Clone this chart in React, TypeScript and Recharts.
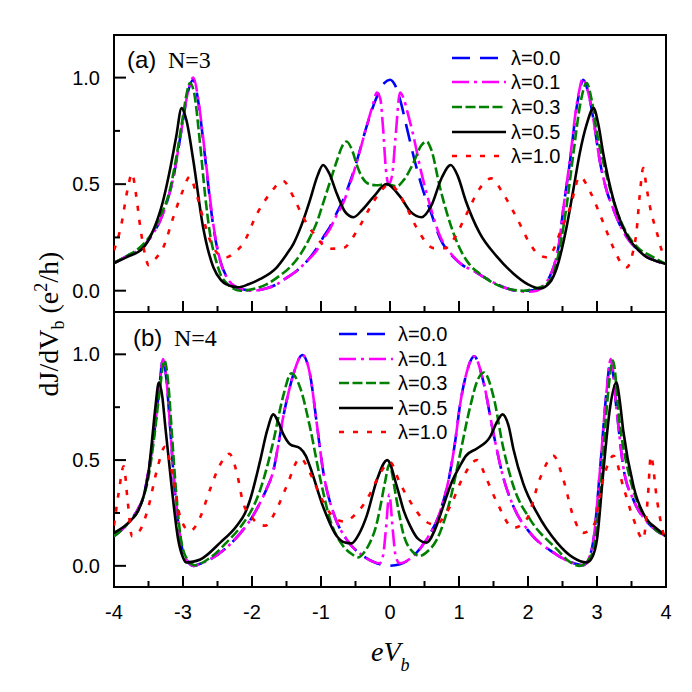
import React from 'react';
import { LineChart, Line, XAxis, YAxis, ReferenceArea, Legend } from 'recharts';

type Pt = [number, number];

const X_TICKS = [-4, -3.5, -3, -2.5, -2, -1.5, -1, -0.5, 0, 0.5, 1, 1.5, 2, 2.5, 3, 3.5, 4];
const Y_TICKS = [0, 0.25, 0.5, 0.75, 1];
const LAMBDAS = ['λ=0.0', 'λ=0.1', 'λ=0.3', 'λ=0.5', 'λ=1.0'];

// (a) N=3
const A_00: Pt[] = [[-4.0,0.13],[-3.8,0.165],[-3.6,0.2],[-3.45,0.26],[-3.33,0.33],[-3.22,0.43],[-3.14,0.53],[-3.06,0.68],[-3.0,0.8],[-2.93,0.93],[-2.85,0.99],[-2.78,0.89],[-2.72,0.74],[-2.66,0.57],[-2.56,0.3],[-2.46,0.14],[-2.36,0.06],[-2.25,0.02],[-2.1,0.004],[-2.0,0.0],[-1.8,0.01],[-1.64,0.03],[-1.5,0.06],[-1.35,0.094],[-1.2,0.14],[-1.06,0.2],[-0.95,0.26],[-0.87,0.3],[-0.78,0.36],[-0.68,0.425],[-0.58,0.51],[-0.48,0.61],[-0.34,0.77],[-0.19,0.91],[-0.08,0.975],[0.0,0.99],[0.08,0.96],[0.16,0.88],[0.24,0.77],[0.39,0.57],[0.5,0.45],[0.58,0.38],[0.72,0.25],[0.92,0.157],[1.05,0.12],[1.21,0.094],[1.38,0.06],[1.55,0.03],[1.7,0.01],[1.84,0.0],[2.0,0.0],[2.13,0.005],[2.24,0.03],[2.32,0.07],[2.37,0.11],[2.45,0.22],[2.51,0.38],[2.61,0.61],[2.7,0.85],[2.75,0.94],[2.8,0.99],[2.88,0.92],[2.95,0.8],[3.04,0.61],[3.14,0.47],[3.24,0.38],[3.36,0.29],[3.48,0.23],[3.6,0.19],[3.72,0.16],[3.85,0.14],[4.0,0.125]];
const A_01: Pt[] = [[-4.0,0.13],[-3.8,0.165],[-3.6,0.2],[-3.45,0.26],[-3.33,0.33],[-3.22,0.43],[-3.14,0.53],[-3.06,0.68],[-3.0,0.8],[-2.93,0.93],[-2.85,1.0],[-2.78,0.9],[-2.72,0.75],[-2.66,0.58],[-2.56,0.31],[-2.46,0.14],[-2.36,0.06],[-2.25,0.02],[-2.1,0.004],[-2.0,0.0],[-1.8,0.01],[-1.64,0.03],[-1.5,0.06],[-1.35,0.094],[-1.2,0.14],[-1.06,0.19],[-0.95,0.25],[-0.87,0.29],[-0.78,0.35],[-0.68,0.41],[-0.55,0.53],[-0.45,0.64],[-0.34,0.77],[-0.25,0.87],[-0.19,0.93],[-0.14,0.9],[-0.1,0.76],[-0.06,0.57],[-0.02,0.5],[0.03,0.54],[0.08,0.72],[0.145,0.93],[0.2,0.9],[0.26,0.83],[0.33,0.74],[0.45,0.56],[0.58,0.4],[0.72,0.26],[0.92,0.16],[1.05,0.12],[1.21,0.094],[1.38,0.06],[1.55,0.03],[1.7,0.01],[1.84,0.0],[2.0,-0.005],[2.13,0.0],[2.24,0.03],[2.32,0.07],[2.37,0.11],[2.45,0.22],[2.51,0.38],[2.61,0.62],[2.7,0.86],[2.75,0.95],[2.79,0.995],[2.88,0.92],[2.95,0.8],[3.04,0.61],[3.14,0.47],[3.24,0.38],[3.36,0.29],[3.48,0.23],[3.6,0.19],[3.72,0.16],[3.85,0.14],[4.0,0.125]];
const A_03: Pt[] = [[-4.0,0.13],[-3.8,0.165],[-3.6,0.21],[-3.45,0.27],[-3.33,0.35],[-3.2,0.46],[-3.1,0.62],[-3.0,0.82],[-2.95,0.92],[-2.9,0.975],[-2.84,0.93],[-2.75,0.68],[-2.68,0.45],[-2.61,0.27],[-2.52,0.14],[-2.46,0.08],[-2.35,0.03],[-2.17,0.0],[-1.95,0.01],[-1.79,0.03],[-1.6,0.07],[-1.45,0.11],[-1.3,0.17],[-1.16,0.25],[-1.05,0.33],[-0.97,0.41],[-0.87,0.51],[-0.77,0.61],[-0.69,0.68],[-0.63,0.7],[-0.55,0.66],[-0.47,0.58],[-0.4,0.53],[-0.3,0.5],[-0.2,0.495],[-0.05,0.5],[0.1,0.49],[0.2,0.52],[0.34,0.6],[0.45,0.68],[0.53,0.7],[0.6,0.66],[0.72,0.49],[0.82,0.37],[0.92,0.27],[1.04,0.18],[1.16,0.12],[1.3,0.08],[1.45,0.045],[1.65,0.015],[1.93,0.0],[2.1,0.01],[2.27,0.03],[2.38,0.09],[2.46,0.2],[2.56,0.4],[2.66,0.65],[2.76,0.88],[2.85,0.975],[2.92,0.9],[3.0,0.74],[3.14,0.54],[3.28,0.38],[3.43,0.27],[3.6,0.2],[3.8,0.16],[4.0,0.125]];
const A_05: Pt[] = [[-4.0,0.13],[-3.8,0.16],[-3.58,0.2],[-3.45,0.27],[-3.29,0.42],[-3.2,0.55],[-3.1,0.72],[-3.02,0.857],[-2.95,0.8],[-2.85,0.61],[-2.71,0.3],[-2.62,0.17],[-2.56,0.11],[-2.45,0.05],[-2.37,0.03],[-2.2,0.016],[-2.05,0.03],[-1.88,0.055],[-1.64,0.11],[-1.5,0.17],[-1.4,0.22],[-1.28,0.31],[-1.16,0.425],[-1.05,0.54],[-0.97,0.59],[-0.88,0.55],[-0.77,0.455],[-0.65,0.37],[-0.53,0.345],[-0.4,0.38],[-0.24,0.44],[-0.05,0.5],[0.15,0.44],[0.3,0.37],[0.46,0.345],[0.6,0.4],[0.75,0.53],[0.88,0.59],[0.98,0.54],[1.1,0.42],[1.3,0.27],[1.55,0.16],[1.79,0.08],[2.0,0.03],[2.17,0.01],[2.32,0.04],[2.42,0.11],[2.56,0.3],[2.66,0.48],[2.75,0.645],[2.85,0.78],[2.95,0.857],[3.02,0.78],[3.09,0.645],[3.24,0.425],[3.36,0.31],[3.48,0.236],[3.6,0.19],[3.72,0.157],[3.85,0.14],[4.0,0.125]];
const A_10: Pt[] = [[-4.0,0.19],[-3.9,0.3],[-3.8,0.48],[-3.74,0.55],[-3.68,0.45],[-3.62,0.3],[-3.55,0.17],[-3.5,0.12],[-3.4,0.15],[-3.29,0.2],[-3.14,0.345],[-3.02,0.455],[-2.9,0.535],[-2.82,0.47],[-2.7,0.33],[-2.6,0.23],[-2.48,0.17],[-2.37,0.157],[-2.25,0.18],[-2.13,0.22],[-1.93,0.36],[-1.74,0.455],[-1.55,0.515],[-1.4,0.44],[-1.26,0.345],[-1.11,0.27],[-0.87,0.197],[-0.68,0.2],[-0.48,0.28],[-0.29,0.39],[-0.1,0.48],[0.0,0.5],[0.1,0.47],[0.24,0.39],[0.43,0.27],[0.63,0.2],[0.8,0.2],[0.92,0.24],[1.11,0.36],[1.3,0.48],[1.47,0.527],[1.64,0.455],[1.84,0.34],[2.03,0.22],[2.15,0.17],[2.27,0.157],[2.38,0.2],[2.46,0.27],[2.61,0.39],[2.75,0.535],[2.9,0.465],[3.04,0.36],[3.24,0.2],[3.35,0.13],[3.43,0.11],[3.52,0.18],[3.57,0.27],[3.62,0.45],[3.67,0.575],[3.72,0.48],[3.77,0.39],[3.87,0.27],[3.96,0.17],[4.0,0.15]];

// (b) N=4
const B_00: Pt[] = [[-4.0,0.14],[-3.8,0.2],[-3.65,0.27],[-3.57,0.33],[-3.5,0.45],[-3.42,0.62],[-3.35,0.82],[-3.29,0.977],[-3.24,0.88],[-3.19,0.67],[-3.12,0.36],[-3.06,0.18],[-3.02,0.094],[-2.95,0.03],[-2.85,0.0],[-2.75,0.01],[-2.61,0.03],[-2.37,0.086],[-2.13,0.17],[-1.98,0.24],[-1.88,0.3],[-1.78,0.37],[-1.69,0.45],[-1.62,0.57],[-1.55,0.7],[-1.47,0.82],[-1.4,0.906],[-1.27,0.997],[-1.16,0.906],[-1.06,0.67],[-0.97,0.45],[-0.82,0.25],[-0.63,0.125],[-0.39,0.047],[-0.19,0.012],[-0.05,0.0],[0.145,0.008],[0.34,0.047],[0.53,0.125],[0.72,0.25],[0.87,0.44],[0.95,0.6],[1.01,0.75],[1.1,0.9],[1.22,0.99],[1.35,0.875],[1.5,0.625],[1.64,0.42],[1.79,0.28],[2.03,0.156],[2.37,0.0625],[2.6,0.02],[2.8,0.003],[2.9,0.05],[2.95,0.125],[3.04,0.44],[3.14,0.83],[3.2,0.977],[3.28,0.75],[3.38,0.47],[3.53,0.31],[3.72,0.21],[3.85,0.17],[4.0,0.14]];
const B_01: Pt[] = [[-4.0,0.14],[-3.8,0.2],[-3.65,0.27],[-3.57,0.33],[-3.5,0.45],[-3.42,0.62],[-3.35,0.82],[-3.29,0.977],[-3.24,0.88],[-3.19,0.67],[-3.12,0.36],[-3.06,0.18],[-3.02,0.094],[-2.95,0.03],[-2.85,0.0],[-2.75,0.01],[-2.61,0.03],[-2.37,0.086],[-2.13,0.17],[-1.98,0.24],[-1.88,0.3],[-1.78,0.37],[-1.69,0.45],[-1.62,0.57],[-1.55,0.7],[-1.47,0.82],[-1.4,0.906],[-1.27,0.997],[-1.16,0.906],[-1.06,0.67],[-0.97,0.45],[-0.82,0.25],[-0.63,0.125],[-0.39,0.047],[-0.25,0.02],[-0.15,0.012],[-0.1,0.05],[-0.06,0.17],[-0.01,0.337],[0.04,0.17],[0.08,0.05],[0.14,0.012],[0.34,0.047],[0.53,0.125],[0.72,0.25],[0.87,0.44],[0.95,0.6],[1.01,0.75],[1.1,0.9],[1.22,0.99],[1.35,0.875],[1.5,0.625],[1.64,0.42],[1.79,0.28],[2.03,0.156],[2.37,0.0625],[2.6,0.02],[2.8,0.003],[2.9,0.05],[2.95,0.125],[3.04,0.44],[3.14,0.83],[3.2,0.977],[3.28,0.75],[3.38,0.47],[3.53,0.31],[3.72,0.21],[3.85,0.17],[4.0,0.14]];
const B_03: Pt[] = [[-4.0,0.14],[-3.8,0.2],[-3.6,0.3],[-3.5,0.42],[-3.42,0.6],[-3.34,0.82],[-3.27,0.97],[-3.21,0.85],[-3.16,0.62],[-3.1,0.35],[-3.04,0.15],[-2.97,0.05],[-2.83,0.003],[-2.6,0.04],[-2.37,0.11],[-2.13,0.2],[-1.98,0.28],[-1.88,0.36],[-1.78,0.47],[-1.69,0.59],[-1.55,0.8],[-1.43,0.91],[-1.3,0.84],[-1.16,0.656],[-1.01,0.41],[-0.87,0.22],[-0.68,0.094],[-0.55,0.055],[-0.46,0.04],[-0.36,0.07],[-0.29,0.11],[-0.2,0.19],[-0.14,0.28],[-0.07,0.4],[-0.01,0.48],[0.04,0.42],[0.07,0.36],[0.13,0.25],[0.19,0.156],[0.34,0.0625],[0.43,0.047],[0.55,0.07],[0.68,0.125],[0.87,0.31],[1.01,0.52],[1.16,0.75],[1.26,0.87],[1.36,0.914],[1.5,0.8],[1.64,0.56],[1.79,0.375],[2.03,0.22],[2.42,0.078],[2.6,0.02],[2.75,0.0],[2.88,0.03],[2.95,0.08],[3.07,0.44],[3.15,0.78],[3.23,0.97],[3.33,0.67],[3.48,0.41],[3.6,0.29],[3.72,0.22],[3.85,0.17],[4.0,0.14]];
const B_05: Pt[] = [[-4.0,0.156],[-3.77,0.21],[-3.65,0.26],[-3.57,0.33],[-3.5,0.44],[-3.45,0.59],[-3.4,0.75],[-3.35,0.867],[-3.3,0.8],[-3.26,0.67],[-3.16,0.36],[-3.07,0.125],[-3.0,0.04],[-2.95,0.016],[-2.85,0.02],[-2.75,0.03],[-2.46,0.11],[-2.22,0.19],[-2.1,0.25],[-2.03,0.31],[-1.88,0.5],[-1.78,0.64],[-1.69,0.716],[-1.62,0.68],[-1.55,0.625],[-1.45,0.575],[-1.3,0.555],[-1.22,0.52],[-1.16,0.47],[-0.97,0.28],[-0.77,0.14],[-0.65,0.11],[-0.56,0.106],[-0.45,0.15],[-0.34,0.234],[-0.19,0.406],[-0.04,0.5],[0.1,0.375],[0.2,0.26],[0.29,0.19],[0.4,0.13],[0.53,0.11],[0.65,0.17],[0.77,0.28],[0.9,0.4],[1.01,0.47],[1.1,0.52],[1.26,0.555],[1.45,0.61],[1.55,0.68],[1.63,0.716],[1.72,0.66],[1.79,0.55],[1.93,0.39],[2.13,0.25],[2.42,0.11],[2.65,0.04],[2.85,0.016],[2.93,0.04],[3.0,0.125],[3.09,0.44],[3.19,0.75],[3.28,0.867],[3.33,0.78],[3.38,0.64],[3.53,0.375],[3.72,0.22],[3.85,0.18],[4.0,0.14]];
const B_10: Pt[] = [[-4.0,0.19],[-3.93,0.35],[-3.86,0.47],[-3.8,0.3],[-3.74,0.14],[-3.62,0.17],[-3.5,0.28],[-3.38,0.45],[-3.26,0.5625],[-3.14,0.41],[-3.04,0.23],[-2.9,0.164],[-2.75,0.23],[-2.61,0.36],[-2.46,0.48],[-2.33,0.53],[-2.22,0.44],[-2.13,0.3],[-1.98,0.22],[-1.81,0.19],[-1.64,0.27],[-1.5,0.375],[-1.3,0.51],[-1.16,0.44],[-1.01,0.33],[-0.87,0.25],[-0.68,0.21],[-0.48,0.25],[-0.29,0.34],[-0.14,0.44],[0.0,0.49],[0.145,0.39],[0.34,0.28],[0.48,0.22],[0.65,0.195],[0.87,0.28],[1.06,0.42],[1.26,0.5],[1.4,0.41],[1.55,0.3],[1.79,0.18],[1.98,0.22],[2.17,0.41],[2.37,0.52],[2.51,0.41],[2.66,0.23],[2.8,0.156],[2.95,0.19],[3.09,0.41],[3.24,0.52],[3.38,0.375],[3.53,0.22],[3.67,0.125],[3.74,0.34],[3.78,0.52],[3.87,0.31],[3.96,0.156],[4.0,0.12]];

const STYLES = [
  { color: '#0000ff', dash: '18 10' },
  { color: '#ff00ff', dash: '17 5 3 5' },
  { color: '#008000', dash: '10 3.5' },
  { color: '#000000', dash: undefined },
  { color: '#ff0000', dash: '5 9' },
];

const SANS = '"Liberation Sans", Arial, sans-serif';
const SERIF = '"Liberation Serif", "Times New Roman", serif';

const toPts = (arr: Pt[]) => arr.map(([x, y]) => ({ x, y }));

function XTick(props: any) {
  const { x, y, payload, labels } = props;
  const v = payload.value;
  const major = Number.isInteger(v);
  return (
    <g>
      <line x1={x} x2={x} y1={y} y2={y - (major ? 11 : 6)} stroke="#000" strokeWidth={2} />
      {labels && major && (
        <text x={x} y={y + 32} textAnchor="middle" fontSize={20} fontFamily={SANS} fill="#000">
          {String(v)}
        </text>
      )}
    </g>
  );
}

function YTick(props: any) {
  const { x, y, payload } = props;
  const v = payload.value;
  const major = Math.abs(v * 2 - Math.round(v * 2)) < 1e-6;
  return (
    <g>
      <line x1={x} x2={x + (major ? 12 : 6)} y1={y} y2={y} stroke="#000" strokeWidth={2} />
      {major && (
        <text x={x - 14} y={y + 7} textAnchor="end" fontSize={20} fontFamily={SANS} fill="#000">
          {v.toFixed(1)}
        </text>
      )}
    </g>
  );
}

function LegendBox(props: any) {
  const items = props.payload || [];
  return (
    <div>
      {items.map((entry: any, i: number) => (
        <div key={entry.value} style={{ display: 'flex', alignItems: 'center', height: 24.6 }}>
          <svg width={54} height={10} style={{ display: 'block' }}>
            <line x1={0} x2={54} y1={5} y2={5} stroke={entry.color} strokeWidth={2.6}
              strokeDasharray={STYLES[i].dash} />
          </svg>
          <span style={{ marginLeft: 5, fontSize: 20, fontFamily: SANS, color: '#000', lineHeight: '24px' }}>
            {entry.value}
          </span>
        </div>
      ))}
    </div>
  );
}

type PanelProps = {
  series: Pt[][];
  height: number;
  margin: { top: number; right: number; bottom: number; left: number };
  xHeight: number;
  labels: boolean;
  legendLeft: number;
  legendTop: number;
};

function Panel({ series, height, margin, xHeight, labels, legendLeft, legendTop }: PanelProps) {
  return (
    <LineChart width={692} height={height} margin={margin}>
      <XAxis type="number" dataKey="x" domain={[-4, 4]} ticks={X_TICKS} interval={0}
        height={xHeight} axisLine={false} tickLine={false} tickSize={0} tickMargin={0}
        tick={(p: any) => <XTick {...p} labels={labels} />} allowDataOverflow />
      <YAxis type="number" domain={[-0.1, 1.2]} ticks={Y_TICKS} interval={0} width={114}
        axisLine={false} tickLine={false} tickSize={0} tickMargin={0}
        tick={(p: any) => <YTick {...p} />} allowDataOverflow />
      <ReferenceArea x1={-4} x2={4} y1={-0.1} y2={1.2} fill="none" stroke="#000" strokeWidth={2} />
      {series.map((pts, i) => (
        <Line key={LAMBDAS[i]} data={toPts(pts)} dataKey="y" name={LAMBDAS[i]} type="monotone"
          stroke={STYLES[i].color} strokeDasharray={STYLES[i].dash} strokeWidth={2.6}
          dot={false} activeDot={false} isAnimationActive={false} />
      ))}
      <Legend layout="vertical" align="center" verticalAlign="middle" content={<LegendBox />}
        wrapperStyle={{ position: 'absolute', left: legendLeft, top: legendTop, width: 130 }} />
    </LineChart>
  );
}

export default function App() {
  return (
    <div style={{ position: 'absolute', left: 0, top: 0, width: 692, height: 692, background: '#fff' }}>
      <div style={{ position: 'absolute', left: 0, top: 0 }}>
        <Panel series={[A_00, A_01, A_03, A_05, A_10]} height={342}
          margin={{ top: 35, right: 26, bottom: 0, left: 0 }} xHeight={30} labels={false}
          legendLeft={452} legendTop={45.5} />
      </div>
      <div style={{ position: 'absolute', left: 0, top: 300 }}>
        <Panel series={[B_00, B_01, B_03, B_05, B_10]} height={392}
          margin={{ top: 12, right: 26, bottom: 45, left: 0 }} xHeight={60} labels
          legendLeft={339} legendTop={21.7} />
      </div>
      <svg width={692} height={692} style={{ position: 'absolute', left: 0, top: 0, pointerEvents: 'none' }}>
        <text x={127} y={68} fontSize={24} fill="#000">
          <tspan fontFamily={SANS}>(a)</tspan>
          <tspan x={168} fontFamily={SERIF}>N=3</tspan>
        </text>
        <text x={133} y={346} fontSize={24} fill="#000">
          <tspan fontFamily={SANS}>(b)</tspan>
          <tspan x={174} fontFamily={SERIF}>N=4</tspan>
        </text>
        <text transform="translate(58,324) rotate(-90)" textAnchor="middle" fontFamily={SERIF} fontSize={28} fill="#000">
          dJ/dV<tspan fontSize={18} dy={6}>b</tspan><tspan dy={-6}> (e</tspan><tspan fontSize={18} dy={-11}>2</tspan><tspan dy={11}>/h)</tspan>
        </text>
        <text x={371} y={661} fontFamily={SERIF} fontStyle="italic" fontSize={28} fill="#000">
          eV<tspan fontSize={18} dy={10}>b</tspan>
        </text>
      </svg>
    </div>
  );
}
